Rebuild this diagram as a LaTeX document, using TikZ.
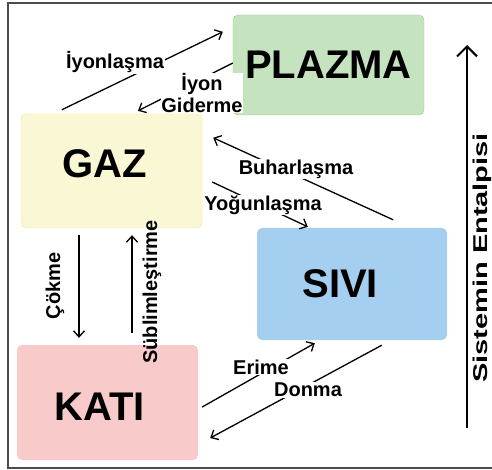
\documentclass[tikz,border=0pt]{standalone}
\usepackage{fontspec}
\setmainfont{Liberation Sans}
\usepackage{xcolor}
\usepackage{tikz}
\usetikzlibrary{arrows.meta,positioning}
\definecolor{plazmafill}{HTML}{C6E3C0}
\definecolor{plazmaline}{HTML}{93D07A}
\definecolor{gazfill}{HTML}{FAF8D4}
\definecolor{gazline}{HTML}{EEEA8C}
\definecolor{sivifill}{HTML}{A5CFF0}
\definecolor{katifill}{HTML}{F8CACA}

\begin{document}
\begin{tikzpicture}[
  x=1pt, y=-1pt,
  phase/.style={rounded corners=5pt, align=center, inner sep=0pt, font=\fontsize{40}{44}\selectfont\bfseries},
  lbl/.style={inner sep=1pt, align=center, font=\fontsize{20}{22}\selectfont\bfseries},
  cut/.style={lbl, fill=white},
  arrow/.style={-{Straight Barb[length=6pt,width=11pt]}, line width=1.3pt},
  frame/.style={line width=2pt, draw=black!70}
]
\useasboundingbox (0,0) rectangle (492,470);
\draw[frame] (492,3) -- (8,3) -- (8,468) -- (492,468);

\node[phase, fill=plazmafill, draw=plazmaline, minimum width=191pt, minimum height=100pt] (plazma) at (328.5,65) {PLAZMA};
\node[phase, fill=gazfill, draw=gazline, minimum width=181pt, minimum height=114pt,
  text width=99pt, align=left, text height=28.6pt, text depth=16pt] (gaz) at (111.5,171) {GAZ};
\node[phase, fill=sivifill, minimum width=190pt, minimum height=112pt,
  text width=99pt, align=left] (sivi) at (352,284) {SIVI};
\node[phase, fill=katifill, minimum width=181pt, minimum height=115pt,
  text width=106pt, align=left, text height=35.6pt, text depth=0pt] (kati) at (107.5,402.5) {KATI};

% gaz <-> plazma
\draw[arrow] ([xshift=41pt,yshift=4pt]gaz.north west) -- ([xshift=-10pt,yshift=-17pt]plazma.north west);
\node[cut] (iyon) at (115,62) {İyonlaşma};
\draw[arrow] ([yshift=2pt]plazma.west) -- ([xshift=26.5pt,yshift=3pt]gaz.north);
\node[cut, inner sep=0pt] (gider) at (202,93) {İyon\\Giderme};

% gaz <-> sivi
\draw[arrow] ([xshift=-54pt,yshift=8pt]sivi.north east) -- ([xshift=11pt,yshift=-24pt]gaz.north east);
\node[cut] (buhar) at (296,169) {Buharlaşma};
\draw[arrow] ([xshift=10pt,yshift=-11pt]gaz.east) -- ([xshift=51pt,yshift=1pt]sivi.north west);
\node[cut] (yogun) at (263,205) {Yoğunlaşma};

% kati <-> sivi
\draw[arrow] ([xshift=4pt,yshift=-4.5pt]kati.east) -- ([xshift=58pt,yshift=-3pt]sivi.south west);
\node[cut] (erime) at (261,367) {Erime};
\draw[arrow] ([xshift=125pt,yshift=-5pt]sivi.south west) -- ([xshift=12pt,yshift=-35.5pt]kati.east);
\node[cut] (donma) at (308,390) {Donma};

% gaz <-> kati
\draw[arrow] ([xshift=-32.5pt,yshift=-7pt]gaz.south) -- ([xshift=-28.5pt,yshift=7pt]kati.north);
\node[lbl, rotate=90] (cokme) at (55,286) {Çökme};
\draw[arrow] ([xshift=24.5pt,yshift=12pt]kati.north) -- ([xshift=20.5pt,yshift=-7pt]gaz.south);
\node[lbl, rotate=90] (sublim) at (152,292) {Süblimleştirme};

% enthalpy axis
\coordinate (ebot) at (467,428);
\coordinate (etop) at (467,45);
\draw[-{Straight Barb[length=10pt,width=20pt]}, line width=2pt] (ebot) -- (etop);
\node[lbl, rotate=90, xscale=1.45] (ental) at (482,258) {Sistemin Entalpisi};
\end{tikzpicture}
\end{document}
